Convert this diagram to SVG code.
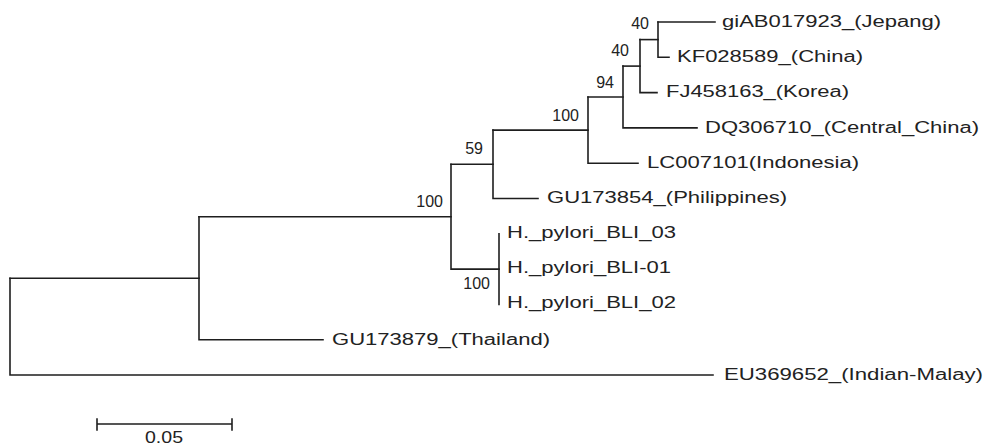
<svg xmlns="http://www.w3.org/2000/svg" width="987" height="445" viewBox="0 0 987 445">
<style>
.br{fill:none;stroke:#1e1e1e;stroke-width:1.6;stroke-linecap:square}
.lf{font-family:"Liberation Sans",Arial,sans-serif;font-size:16px;fill:#222}
.bs{font-family:"Liberation Sans",Arial,sans-serif;font-size:16px;fill:#222;text-anchor:end}
</style>
<rect width="987" height="445" fill="#fff"/>
<g id="connectors">
<path class="br" d="M10,278.2V375H713"/>
<path class="br" d="M10,278.2H199"/>
<path class="br" d="M199,216.7V339.7H323"/>
<path class="br" d="M199,216.7H451"/>
<path class="br" d="M451,164.3V269.1H499"/>
<path class="br" d="M499,233.8V304.4"/>
<path class="br" d="M451,164.3H493"/>
<path class="br" d="M493,130.1V198.5H538"/>
<path class="br" d="M493,130.1H588"/>
<path class="br" d="M588,97V163.2H638"/>
<path class="br" d="M588,97H623"/>
<path class="br" d="M623,66.1V127.9H697"/>
<path class="br" d="M623,66.1H640"/>
<path class="br" d="M640,39.6V92.6H657"/>
<path class="br" d="M640,39.6H658"/>
<path class="br" d="M658,22V57.3H669"/>
<path class="br" d="M658,22H715"/>
<path class="br" d="M97,424H232M97,419V430M232,419V430"/>
</g>
<g id="leaf-giAB017923"><text class="lf" x="722" y="27" textLength="219" lengthAdjust="spacingAndGlyphs">giAB017923_(Jepang)</text></g>
<g id="leaf-KF028589"><text class="lf" x="677" y="62" textLength="186" lengthAdjust="spacingAndGlyphs">KF028589_(China)</text></g>
<g id="leaf-FJ458163"><text class="lf" x="666" y="97" textLength="183" lengthAdjust="spacingAndGlyphs">FJ458163_(Korea)</text></g>
<g id="leaf-DQ306710"><text class="lf" x="705" y="133" textLength="274" lengthAdjust="spacingAndGlyphs">DQ306710_(Central_China)</text></g>
<g id="leaf-LC007101"><text class="lf" x="647" y="168" textLength="212" lengthAdjust="spacingAndGlyphs">LC007101(Indonesia)</text></g>
<g id="leaf-GU173854"><text class="lf" x="547" y="203" textLength="240" lengthAdjust="spacingAndGlyphs">GU173854_(Philippines)</text></g>
<g id="leaf-BLI03"><text class="lf" x="507" y="238" textLength="169" lengthAdjust="spacingAndGlyphs">H._pylori_BLI_03</text></g>
<g id="leaf-BLI01"><text class="lf" x="507" y="273" textLength="164" lengthAdjust="spacingAndGlyphs">H._pylori_BLI-01</text></g>
<g id="leaf-BLI02"><text class="lf" x="507" y="308" textLength="169" lengthAdjust="spacingAndGlyphs">H._pylori_BLI_02</text></g>
<g id="leaf-GU173879"><text class="lf" x="332" y="345" textLength="218" lengthAdjust="spacingAndGlyphs">GU173879_(Thailand)</text></g>
<g id="leaf-EU369652"><text class="lf" x="724" y="380" textLength="259" lengthAdjust="spacingAndGlyphs">EU369652_(Indian-Malay)</text></g>
<g id="node-a"><text class="bs" x="649" y="29">40</text></g>
<g id="node-b"><text class="bs" x="629" y="56">40</text></g>
<g id="node-c"><text class="bs" x="614" y="88">94</text></g>
<g id="node-d"><text class="bs" x="579" y="121">100</text></g>
<g id="node-e"><text class="bs" x="483" y="154">59</text></g>
<g id="node-f"><text class="bs" x="443" y="207">100</text></g>
<g id="node-g"><text class="bs" x="490" y="289">100</text></g>
<g id="scale"><text class="lf" x="145" y="443" textLength="38" lengthAdjust="spacingAndGlyphs">0.05</text></g>
</svg>
